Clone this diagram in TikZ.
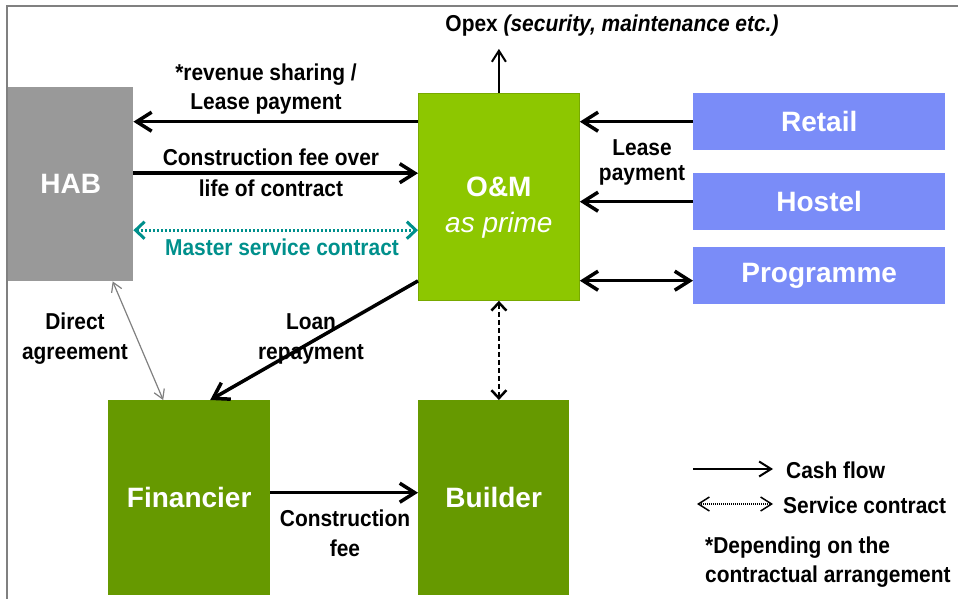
\documentclass[tikz,border=0pt]{standalone}
\usepackage{fontspec}
\setmainfont{Liberation Sans}
\newfontfamily\narrowfont[FakeStretch=0.91]{Liberation Sans}
\usetikzlibrary{arrows.meta}

\definecolor{habgray}{HTML}{999999}
\definecolor{omgreen}{HTML}{8DC700}
\definecolor{fingreen}{HTML}{669900}
\definecolor{tenantblue}{HTML}{7A8CF8}
\definecolor{mscteal}{HTML}{00908C}
\definecolor{framegray}{HTML}{808080}

\tikzset{
  party/.style={anchor=north west, inner sep=0pt, text=white, align=center,
    font=\bfseries\fontsize{28}{36}\selectfont},
  flowlabel/.style={align=center, inner sep=0pt, font=\narrowfont\bfseries\fontsize{23}{30}\selectfont},
  cash/.style={line width=3.5pt, -{Straight Barb[length=15pt,width=19pt]}},
  cashboth/.style={line width=3.5pt, {Straight Barb[length=15pt,width=19pt]}-{Straight Barb[length=15pt,width=19pt]}},
  msc/.style={mscteal, line width=3pt, dash pattern=on 2pt off 2pt,
    {Straight Barb[length=9pt,width=17pt]}-{Straight Barb[length=9pt,width=17pt]}},
  svc/.style={line width=2.5pt, dash pattern=on 5pt off 3pt,
    {Straight Barb[length=8pt,width=15pt]}-{Straight Barb[length=8pt,width=15pt]}},
  direct/.style={framegray, line width=1.2pt,
    {Straight Barb[length=9pt,width=11pt]}-{Straight Barb[length=9pt,width=11pt]}},
  thinflow/.style={line width=2pt, -{Straight Barb[length=11pt,width=14pt]}},
  legendcash/.style={line width=2pt, -{Straight Barb[length=12pt,width=15pt]}},
  legendsvc/.style={line width=1.5pt, dash pattern=on 1pt off 1pt,
    {Straight Barb[length=11pt,width=14pt]}-{Straight Barb[length=11pt,width=14pt]}}
}

\begin{document}
\begin{tikzpicture}[x=1pt,y=-1pt]
  \useasboundingbox (0,0) rectangle (958,599);
  \draw[framegray, line width=2pt] (6.5,599) -- (6.5,6.5) -- (958,6.5);

  % parties
  \node[party, fill=habgray, minimum width=125pt, minimum height=194pt] (hab) at (8,87) {HAB};
  \node[party, fill=omgreen, draw=omgreen!85!black, line width=0.8pt,
    minimum width=161pt, minimum height=207pt] (om) at (418,93)
    {\rule{0pt}{42pt}O\&M\\{\mdseries\itshape as prime}};
  \node[party, fill=tenantblue, minimum width=252pt, minimum height=57pt] (retail) at (693,93) {Retail};
  \node[party, fill=tenantblue, minimum width=252pt, minimum height=57pt] (hostel) at (693,173) {Hostel};
  \node[party, fill=tenantblue, minimum width=252pt, minimum height=57pt] (programme) at (693,247) {Programme};
  \node[party, fill=fingreen, minimum width=162pt, minimum height=195pt] (fin) at (108,400) {Financier};
  \node[party, fill=fingreen, minimum width=151pt, minimum height=195pt] (builder) at (418,400) {Builder};

  % labels
  \node[flowlabel] (opex) at (612,26)
    {Opex \textit{(security, maintenance etc.)}};
  \node[flowlabel, font=\narrowfont\bfseries\fontsize{23}{29}\selectfont] (revlbl) at (266,89) {*revenue sharing /\\Lease payment};
  \node[flowlabel, font=\narrowfont\bfseries\fontsize{23}{31}\selectfont] (cflbl) at (271,173) {Construction fee over\\life of contract};
  \node[flowlabel, text=mscteal] (msclbl) at (282,247) {Master service contract};
  \node[flowlabel, font=\narrowfont\bfseries\fontsize{23}{25}\selectfont] (leaselbl) at (642,162) {Lease\\payment};
  \node[flowlabel] (loanlbl) at (311,339) {Loan\\repayment};
  \node[flowlabel] (directlbl) at (75,339) {Direct\\agreement};
  \node[flowlabel] (cfeelbl) at (345,533) {Construction\\fee};

  % cash flows and contracts
  \coordinate (opextip) at ([yshift=-12pt]opex.south);
  \draw[thinflow] (om.north) -- (om.north |- opextip);
  \draw[cash] (om.west |- retail.west) -- (hab.east |- retail.west);
  \coordinate (cfstart) at ([yshift=11pt]hab.east);
  \draw[cash] (cfstart) -- (cfstart -| om.west);
  \coordinate (mscstart) at ([yshift=-46pt]hab.east);
  \draw[msc] (mscstart) -- (mscstart -| om.west);
  \draw[cash] (retail.west) -- (retail.west -| om.east);
  \draw[cash] (hostel.west) -- (hostel.west -| om.east);
  \coordinate (prgstart) at ([yshift=-5pt]programme.west);
  \draw[cashboth] (prgstart) -- (prgstart -| om.east);
  \draw[cash] ([yshift=-84pt]om.west) -- ([xshift=21pt]fin.north);
  \draw[direct] ([xshift=42pt]hab.south) -- ([xshift=-26pt]fin.north);
  \draw[svc] (om.south) -- (om.south |- builder.north);
  \coordinate (fcstart) at ([yshift=5pt]fin.east);
  \draw[cash] (fcstart) -- (fcstart -| builder.west);

  % legend
  \node[flowlabel, anchor=west] (cashlbl) at (786,470) {Cash flow};
  \node[flowlabel, anchor=west] (svclbl) at (783,505) {Service contract};
  \node[flowlabel, anchor=west, align=left, font=\narrowfont\bfseries\fontsize{23}{29}\selectfont] (note) at (705,562)
    {*Depending on the\\contractual arrangement};
  \coordinate (cashstart) at (693,469);
  \draw[legendcash, shorten >=13pt] (cashstart) -- (cashstart -| cashlbl.west);
  \coordinate (svcstart) at (697,504);
  \draw[legendsvc, shorten >=10pt] (svcstart) -- (svcstart -| svclbl.west);
\end{tikzpicture}
\end{document}
